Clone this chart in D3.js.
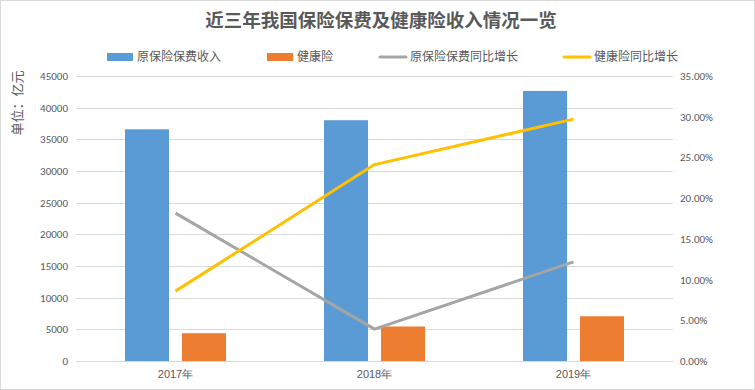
<!DOCTYPE html>
<html>
<head>
<meta charset="utf-8">
<script src="https://cdn.jsdelivr.net/npm/d3@7"></script>
<style>
  html, body { margin: 0; padding: 0; background: #fff; }
  svg { display: block; font-family: "Microsoft YaHei", "Noto Sans CJK SC", sans-serif; }
</style>
</head>
<body>
<div id="chart"></div>
<script>
const years = ["2017年", "2018年", "2019年"];
const premium = [36581, 38016, 42645];      // 原保险保费收入
const health = [4389, 5448, 7066];          // 健康险
const premium_growth = [0.1816, 0.0392, 0.1217];
const health_growth = [0.0858, 0.2412, 0.2970];
const left_ticks = d3.range(0, 45001, 5000);
const right_ticks = d3.range(0, 0.3501, 0.05);

const width = 755, height = 390;
const margin = {top: 76, right: 82, bottom: 29, left: 76};
const text_color = "#595959";
const grid_color = "#d9d9d9";

const svg = d3.select("#chart").append("svg")
    .attr("width", width)
    .attr("height", height);

// outer frame
svg.append("rect")
    .attr("x", 0.5).attr("y", 0.5)
    .attr("width", width - 1).attr("height", height - 1)
    .attr("fill", "#fff")
    .attr("stroke", grid_color);

const x = d3.scaleBand()
    .domain(years)
    .range([margin.left, width - margin.right]);

const y = d3.scaleLinear()
    .domain([0, 45000])
    .range([height - margin.bottom, margin.top]);

const y2 = d3.scaleLinear()
    .domain([0, 0.35])
    .range([height - margin.bottom, margin.top]);

// gridlines
svg.append("g")
  .selectAll("line")
  .data(left_ticks)
  .join("line")
    .attr("x1", margin.left)
    .attr("x2", width - margin.right)
    .attr("y1", d => Math.round(y(d)) + 0.5)
    .attr("y2", d => Math.round(y(d)) + 0.5)
    .attr("stroke", grid_color)
    .attr("stroke-width", 1);

// left axis
const left_axis = svg.append("g")
    .attr("transform", `translate(${margin.left - 8},0)`)
    .call(d3.axisLeft(y).tickValues(left_ticks).tickSize(0).tickPadding(0).tickFormat(d3.format("d")));
left_axis.select(".domain").remove();
left_axis.selectAll("text")
    .attr("fill", text_color)
    .style("font-size", "11px")
    .style("font-family", "Calibri, Carlito, 'Liberation Sans', sans-serif");

// right axis
const right_axis = svg.append("g")
    .attr("transform", `translate(${width - margin.right + 7},0)`)
    .call(d3.axisRight(y2).tickValues(right_ticks).tickSize(0).tickPadding(0).tickFormat(d3.format(".2%")));
right_axis.select(".domain").remove();
right_axis.selectAll("text")
    .attr("fill", text_color)
    .style("font-size", "11px")
    .style("font-family", "Calibri, Carlito, 'Liberation Sans', sans-serif");

// x axis labels
const x_axis = svg.append("g")
    .attr("transform", `translate(0,${height - margin.bottom + 9})`)
    .call(d3.axisBottom(x).tickSize(0).tickPadding(0));
x_axis.select(".domain").remove();
x_axis.selectAll("text")
    .attr("fill", text_color)
    .style("font-size", "11px");

// bars
const bar_w = 44, bar_gap = 13;
const bar_series = [
  {name: "原保险保费收入", values: premium, color: "#5B9BD5", offset: -(bar_w + bar_gap / 2)},
  {name: "健康险", values: health, color: "#ED7D31", offset: bar_gap / 2}
];

bar_series.forEach(s => {
  svg.append("g")
    .selectAll("rect")
    .data(s.values)
    .join("rect")
      .attr("x", (d, i) => x(years[i]) + x.bandwidth() / 2 + s.offset)
      .attr("y", d => y(d))
      .attr("width", bar_w)
      .attr("height", d => y(0) - y(d))
      .attr("fill", s.color);
});

// lines
const line_series = [
  {name: "原保险保费同比增长", values: premium_growth, color: "#A5A5A5"},
  {name: "健康险同比增长", values: health_growth, color: "#FFC000"}
];

const line = d3.line()
    .x((d, i) => x(years[i]) + x.bandwidth() / 2)
    .y(d => y2(d));

line_series.forEach(s => {
  svg.append("path")
      .datum(s.values)
      .attr("d", line)
      .attr("fill", "none")
      .attr("stroke", s.color)
      .attr("stroke-width", 3)
      .attr("stroke-linejoin", "round");
});

// title
svg.append("text")
    .attr("x", 381)
    .attr("y", 27)
    .attr("text-anchor", "middle")
    .attr("fill", text_color)
    .style("font-size", "18.5px")
    .style("font-weight", "bold")
    .text("近三年我国保险保费及健康险收入情况一览");

// y axis title
svg.append("text")
    .attr("transform", "translate(17,103) rotate(-90)")
    .attr("text-anchor", "middle")
    .attr("dy", "0.35em")
    .attr("fill", text_color)
    .style("font-size", "13px")
    .text("单位：亿元");

// legend
const legend_items = [
  {name: bar_series[0].name, color: bar_series[0].color, type: "rect", x: 107},
  {name: bar_series[1].name, color: bar_series[1].color, type: "rect", x: 267},
  {name: line_series[0].name, color: line_series[0].color, type: "line", x: 380},
  {name: line_series[1].name, color: line_series[1].color, type: "line", x: 564}
];
const legend = svg.append("g").attr("transform", "translate(0,57)");
legend_items.forEach(it => {
  const w = 26;
  if (it.type === "rect") {
    legend.append("rect")
        .attr("x", it.x).attr("y", -4)
        .attr("width", w).attr("height", 8)
        .attr("fill", it.color);
  } else {
    legend.append("line")
        .attr("x1", it.x).attr("x2", it.x + w)
        .attr("y1", 0).attr("y2", 0)
        .attr("stroke", it.color)
        .attr("stroke-width", 3)
        .attr("stroke-linecap", "round");
  }
  legend.append("text")
      .attr("x", it.x + w + 4)
      .attr("y", 0)
      .attr("dy", "0.35em")
      .attr("fill", text_color)
      .style("font-size", "12px")
      .text(it.name);
});
</script>
</body>
</html>
